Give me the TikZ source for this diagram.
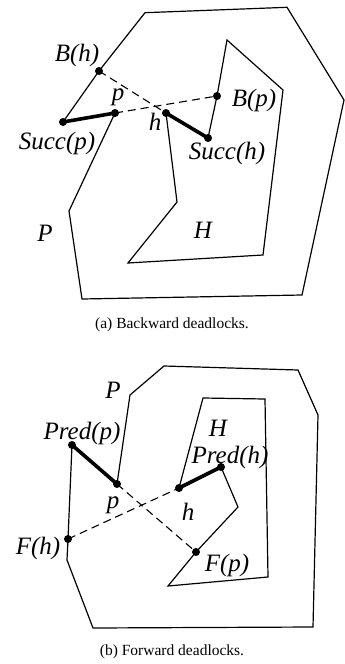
\documentclass[tikz,border=0pt]{standalone}
\usepackage{fontspec}
\setmainfont{Liberation Serif}
\begin{document}
\begin{tikzpicture}[x=1pt,y=-1pt,
  edge/.style={line width=1.2pt, line join=miter},
  heavy/.style={line width=3.6pt, line cap=round},
  dashline/.style={line width=1.1pt, dash pattern=on 8pt off 5pt},
  dot/.style={circle, fill=black, inner sep=0pt, minimum size=8pt},
  lbl/.style={font=\fontsize{25}{26}\selectfont\itshape, inner sep=0pt},
  captext/.style={font=\fontsize{15.5}{17}\selectfont, inner sep=0pt}]
\useasboundingbox (0,0) rectangle (345,664);
% ---------- (a) ----------
\coordinate (aBh) at (99,71);
\coordinate (ap) at (115,113);
\coordinate (aSp) at (63,122);
\coordinate (ah) at (166,113);
\coordinate (aSh) at (208,138);
\coordinate (aBp) at (217,96);
\draw[edge] (145,12.7) -- (287,7.3) -- (344,100) -- (302,295) -- (82,299) -- (69,211) -- (ap) -- (aSp) -- (aBh) -- cycle;
\draw[edge] (ah) -- (aSh) -- (aBp) -- (227,40) -- (283,90) -- (263,255) -- (128,263) -- (177,202) -- cycle;
\draw[dashline] (aBh) -- (ah);
\draw[dashline] (ap) -- (aBp);
\draw[heavy] (aSp) -- (ap);
\draw[heavy] (ah) -- (aSh);
\foreach \c in {aBh,ap,aSp,ah,aSh,aBp} \node[dot] (d\c) at (\c) {};
\node[lbl] (laBh) at (77,55) {B(h)};
\node[lbl] (lap) at (118,97) {p};
\node[lbl] (laBp) at (254,100) {B(p)};
\node[lbl] (lah) at (155,122) {h};
\node[lbl] (laSp) at (57,143) {Succ(p)};
\node[lbl] (laSh) at (227,153) {Succ(h)};
\node[lbl] (laP) at (45,233) {P};
\node[lbl] (laH) at (203,230) {H};
\node[captext] (capa) at (172,325) {(a) Backward deadlocks.};
% ---------- (b) ----------
\coordinate (bFh) at (68,539);
\coordinate (bPp) at (72,445);
\coordinate (bp) at (117,484);
\coordinate (bFp) at (196,552);
\coordinate (bPh) at (221,467);
\coordinate (bh) at (179,488);
\draw[edge] (130,395) -- (164,366) -- (298,370) -- (318,415) -- (313,627) -- (93,628) -- (67,560) -- (bFh) -- (bPp) -- (bp) -- cycle;
\draw[edge] (203,398) -- (265,399) -- (268,577) -- (168,586) -- (bFp) -- (238,507) -- (bPh) -- (bh) -- cycle;
\draw[dashline] (bp) -- (bFp);
\draw[dashline] (bFh) -- (bh);
\draw[heavy] (bPp) -- (bp);
\draw[heavy] (bh) -- (bPh);
\foreach \c in {bFh,bp,bPp,bh,bPh,bFp} \node[dot] (d\c) at (\c) {};
\node[lbl] (lbP) at (113,390) {P};
\node[lbl] (lbPp) at (82,433) {Pred(p)};
\node[lbl] (lbH) at (218,428) {H};
\node[lbl] (lbPh) at (230,457) {Pred(h)};
\node[lbl] (lbp) at (113,505) {p};
\node[lbl] (lbh) at (188,512) {h};
\node[lbl] (lbFh) at (38,548) {F(h)};
\node[lbl] (lbFp) at (227,565) {F(p)};
\node[captext] (capb) at (172,652) {(b) Forward deadlocks.};
\end{tikzpicture}
\end{document}
